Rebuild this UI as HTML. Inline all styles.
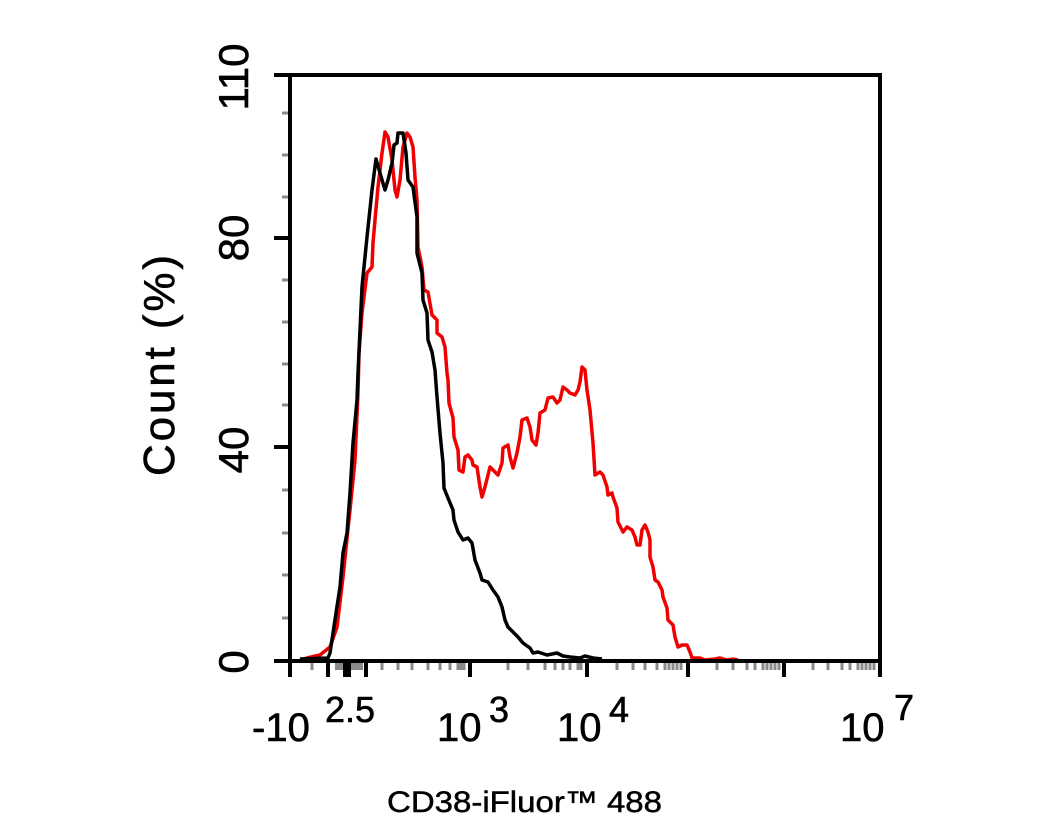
<!DOCTYPE html>
<html>
<head>
<meta charset="utf-8">
<style>
html,body{margin:0;padding:0;background:#fff;}
svg{display:block;}
text{font-family:"Liberation Sans",Arial,sans-serif;fill:#000;stroke:#000;stroke-width:0.6;}
</style>
</head>
<body>
<svg width="1046" height="837" viewBox="0 0 1046 837" xmlns="http://www.w3.org/2000/svg">
<rect width="1046" height="837" fill="#fff"/>
<path stroke="#8a8a8a" stroke-width="3" fill="none" d="M282 113h8M282 155h8M282 197h8M282 280h8M282 322h8M282 364h8M282 405h8M282 490h8M282 533h8M282 575h8M282 618h8"/>
<rect x="335" y="661" width="28" height="9" fill="#8a8a8a"/>
<path stroke="#8a8a8a" stroke-width="3" fill="none" d="M312 661v9M382 661v9M398 661v9M412 661v9M428 661v9M440 661v9M450 661v9M458 661v9M461 661v9M464 661v9M508 661v9M528 661v9M545 661v9M555 661v9M563 661v9M570 661v9M578 661v9M581 661v9M617 661v9M633 661v9M645 661v9M657 661v9M665 661v9M669 661v9M673 661v9M677 661v9M681 661v9M717 661v9M733 661v9M747 661v9M755 661v9M763 661v9M767 661v9M771 661v9M775 661v9M779 661v9M813 661v9M828 661v9M842 661v9M850 661v9M858 661v9M862 661v9M866 661v9M870 661v9M874 661v9"/>
<polyline fill="none" stroke="#f00000" stroke-width="3.5" stroke-linejoin="round" points="300,660 307,658 320,655 330,647 337,627 343,577 350,510 355,460 358,393 359,353 362,313 367,273 372,267 373,243 375,220 378,187 382,153 385,132 388,137 392,160 395,190 397,197 400,180 403,147 407,133 410,137 413,147 415,177 417,200 418,247 422,267 424,290 428,292 432,315 437,320 437,333 442,337 445,347 447,373 448,380 449,403 453,418 454,437 458,450 459,470 463,472 465,457 468,455 472,460 473,465 477,467 480,487 482,497 485,487 490,467 493,470 498,475 502,463 503,448 508,445 510,457 513,468 517,453 520,437 522,420 527,418 530,427 532,440 536,445 538,433 540,413 545,410 548,398 553,397 557,403 560,400 563,387 567,390 570,393 575,395 578,390 580,382 582,367 585,370 587,390 590,410 593,443 595,475 600,472 603,475 607,487 608,495 612,493 613,497 617,508 618,522 622,530 623,532 627,527 632,530 635,537 637,545 640,545 642,530 645,525 648,532 650,540 650,557 653,567 655,580 658,582 662,590 663,597 667,608 668,620 673,625 675,637 678,647 682,645 687,645 690,652 692,658 700,658 705,660 715,659 720,658 727,660 733,659 738,660"/>
<polyline fill="none" stroke="#000" stroke-width="3.5" stroke-linejoin="round" points="300,659 328,658 330,653 333,633 336,613 340,587 343,553 347,533 350,493 353,443 357,400 358,373 362,287 367,237 372,190 376,159 380,173 385,190 388,180 392,163 394,145 397,143 398,133 403,133 406,153 408,180 413,187 417,217 417,253 422,273 423,300 427,313 428,340 432,352 435,370 437,397 440,433 443,463 444,488 448,498 453,510 454,520 458,532 463,540 468,538 472,543 475,560 480,573 482,580 488,582 493,590 498,597 502,607 505,620 508,627 513,632 518,637 523,643 530,648 533,653 538,652 547,655 557,653 563,656 570,657 580,658 585,656 593,658 602,659"/>
<path stroke="#000" stroke-width="4" fill="none" d="M290 73V663M274 75H882M880 73V663M288 661H882M274 238h16M274 447h16M274 661h16M290 661v16M328 661v16M345 661v16M349 661v16M366 661v16M470 661v16M587 661v16M688 661v16M784 661v16M880 661v16"/>
<g font-size="42" text-anchor="middle">
<text transform="translate(248,77) rotate(-90)">110</text>
<text transform="translate(248,238) rotate(-90)">80</text>
<text transform="translate(248,450) rotate(-90)">40</text>
<text transform="translate(248,662) rotate(-90)">0</text>
</g>
<text font-size="44" transform="translate(174,476) rotate(-90)" textLength="221" lengthAdjust="spacing">Count  (%)</text>
<g font-size="40">
<text x="252" y="741">-10</text>
<text x="437" y="741">10</text>
<text x="557" y="741">10</text>
<text x="840" y="741">10</text>
</g>
<g font-size="36">
<text x="325" y="722">2.5</text>
<text x="489" y="722">3</text>
<text x="609" y="722">4</text>
<text x="894" y="720">7</text>
</g>
<text x="387" y="812" font-size="30" style="stroke-width:0.5" textLength="275" lengthAdjust="spacingAndGlyphs">CD38-iFluor™ 488</text>
</svg>
</body>
</html>
